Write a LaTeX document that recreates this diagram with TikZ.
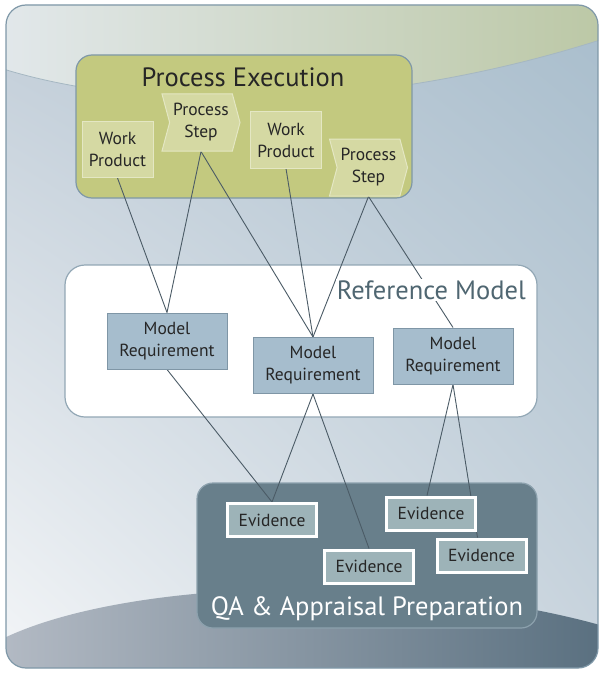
\documentclass[tikz,border=0pt]{standalone}
\usepackage{fontspec}
\setmainfont{PT Sans}
\usetikzlibrary{shapes.symbols, shadings}

\definecolor{framecol}{HTML}{7F98A8}
\definecolor{midtl}{HTML}{C1CDD8}
\definecolor{midtr}{HTML}{A8BDCC}
\definecolor{midbl}{HTML}{F4F6F8}
\definecolor{midbr}{HTML}{CAD5DE}
\definecolor{toplft}{HTML}{E2E8EB}
\definecolor{toprgt}{HTML}{BCC8A6}
\definecolor{botlft}{HTML}{B3BAC4}
\definecolor{botrgt}{HTML}{5A7080}
\definecolor{pefill}{HTML}{C3C97F}
\definecolor{stepfill}{HTML}{D5D9A3}
\definecolor{stepedge}{HTML}{E4E7C3}
\definecolor{reqfill}{HTML}{A6BDCD}
\definecolor{reqedge}{HTML}{7F96A6}
\definecolor{qafill}{HTML}{687F8B}
\definecolor{qaedge}{HTML}{8CA1AD}
\definecolor{evfill}{HTML}{9DB3B8}
\definecolor{linkcol}{HTML}{4B5B66}
\definecolor{rmtext}{HTML}{4F6671}

\pgfdeclarelayer{back}
\pgfdeclarelayer{mid}
\pgfsetlayers{back,mid,main}

\tikzset{
  box/.style={rounded corners=16pt, line width=1.2pt, inner sep=0pt},
  item/.style={draw=stepedge, fill=stepfill, line width=1pt, inner sep=0pt,
    align=center, text=black!85, font=\fontsize{17.5}{22}\selectfont},
  workprod/.style={item, minimum width=71pt, minimum height=56pt},
  procstep/.style={item, shape=signal, signal to=east, signal from=west,
    signal pointer angle=150, minimum width=78pt, minimum height=57pt},
  modelreq/.style={draw=reqedge, fill=reqfill, line width=1pt, inner sep=0pt,
    align=center, text=black!85, minimum width=120pt, minimum height=56pt,
    font=\fontsize{17.5}{22}\selectfont},
  evid/.style={draw=white, fill=evfill, line width=3pt, inner sep=0pt,
    text=black!85, minimum width=89pt, minimum height=33pt,
    font=\fontsize{17.5}{21}\selectfont},
  title/.style={inner sep=1pt, font=\fontsize{26.5}{31}\selectfont},
  link/.style={draw=linkcol, line width=0.9pt}
}

\begin{document}
\begin{tikzpicture}[x=1pt,y=-1pt]
  \useasboundingbox (0,0) rectangle (600,674);

  % backdrop
  \begin{pgfonlayer}{back}
    \begin{scope}
      \clip[rounded corners=20pt] (6,5) rectangle (598,668);
      \shade[upper left=midtl, upper right=midtr, lower left=midbl, lower right=midbr]
        (0,0) rectangle (600,674);
      \shade[left color=toplft, right color=toprgt]
        (0,0) -- (0,68) .. controls (150,115) and (380,110) .. (600,40) -- (600,0) -- cycle;
      \draw[framecol!70, line width=0.8pt]
        (0,68) .. controls (150,115) and (380,110) .. (600,40);
      \shade[left color=botlft, right color=botrgt]
        (0,640) .. controls (120,580) and (400,570) .. (600,625) -- (600,674) -- (0,674) -- cycle;
    \end{scope}
    \draw[framecol, line width=1.2pt, rounded corners=20pt] (6,5) rectangle (598,668);

    % containers
    \node[box, draw=framecol, fill=pefill, minimum width=336pt, minimum height=143pt]
      (pe) at (244,126.5) {};
    \node[box, draw=framecol!85, fill=white, rounded corners=20pt,
      minimum width=472pt, minimum height=152pt] (rm) at (301,341) {};
    \node[box, draw=qaedge, fill=qafill, minimum width=340pt, minimum height=145pt]
      (qa) at (367,555.5) {};
  \end{pgfonlayer}

  \node[title, text=black!85] (petitle) at (243,77) {Process Execution};
  \node[title, text=white] (qatitle) at (367,609) {QA \& Appraisal Preparation};

  % process execution
  \node[workprod] (wp1) at (117.5,149.5) {Work\\Product};
  \node[procstep] (ps1) at (201,122.5) {Process\\Step};
  \node[workprod] (wp2) at (286,140) {Work\\Product};
  \node[procstep] (ps2) at (368.5,167.5) {Process\\Step};

  % reference model
  \node[modelreq] (mr1) at (167,341) {Model\\Requirement};
  \node[modelreq] (mr2) at (313,365.5) {Model\\Requirement};
  \node[modelreq] (mr3) at (453,356) {Model\\Requirement};

  % evidence
  \node[evid] (ev1) at (272,520) {Evidence};
  \node[evid] (ev2) at (369,566.5) {Evidence};
  \node[evid] (ev3) at (431,513.5) {Evidence};
  \node[evid] (ev4) at (481.5,555.5) {Evidence};

  \begin{pgfonlayer}{mid}
    \draw[link] (wp1.south) -- (mr1.north);
    \draw[link] (ps1.south) -- (mr1.north);
    \draw[link] (ps1.south) -- (mr2.north);
    \draw[link] (wp2.south) -- (mr2.north);
    \draw[link] (ps2.south) -- (mr2.north);
    \draw[link] (ps2.south) -- (mr3.north);
    \draw[link] (mr1.south) -- (ev1.north);
    \draw[link] (mr2.south) -- (ev1.north);
    \draw[link] (mr2.south) -- (ev2.north);
    \draw[link] (mr3.south) -- ([xshift=-4pt]ev3.north);
    \draw[link] (mr3.south) -- ([xshift=-4pt]ev4.north);
  \end{pgfonlayer}

  \node[title, text=rmtext, fill=white, anchor=east] (rmtitle) at (527,290) {Reference Model};
\end{tikzpicture}
\end{document}
